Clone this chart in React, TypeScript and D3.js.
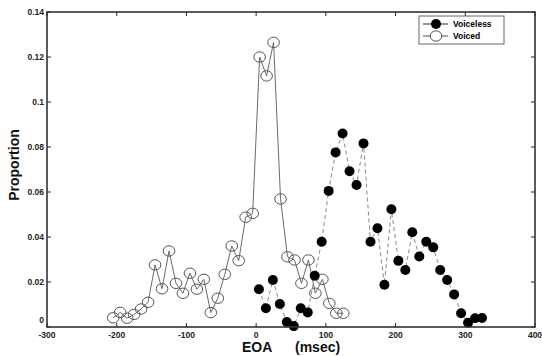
import * as React from 'react';
import * as d3 from 'd3';

// EOA (msec) and proportion for each group
const voicedEoa = [-205, -195, -185, -175, -165, -155, -145, -135, -125, -115, -105, -95, -85, -75, -65, -55, -45, -35, -25, -15, -5, 5, 15, 25, 35, 45, 55, 65, 75, 85, 95, 105, 115, 125];
const voicedProp = [0.0041, 0.0065, 0.0039, 0.0056, 0.008, 0.011, 0.0276, 0.017, 0.0338, 0.0194, 0.015, 0.0239, 0.0168, 0.0212, 0.0064, 0.0128, 0.0234, 0.036, 0.0295, 0.0488, 0.0505, 0.12, 0.1116, 0.1265, 0.0569, 0.0312, 0.0298, 0.0194, 0.0298, 0.015, 0.0212, 0.0105, 0.0061, 0.0061];

const voicelessEoa = [4, 14, 24, 34, 44, 54, 64, 74, 84, 94, 104, 114, 124, 134, 144, 154, 164, 174, 184, 194, 204, 214, 224, 234, 244, 254, 264, 274, 284, 294, 304, 314, 324];
const voicelessProp = [0.0168, 0.0083, 0.0209, 0.0102, 0.0022, 0.0004, 0.0083, 0.0065, 0.0228, 0.0379, 0.0605, 0.0776, 0.086, 0.0692, 0.0631, 0.0816, 0.0379, 0.0439, 0.0188, 0.0523, 0.0294, 0.0253, 0.0421, 0.0313, 0.0379, 0.0354, 0.0253, 0.0209, 0.0145, 0.0061, 0.0019, 0.0039, 0.004];

const xTicks = [-300, -200, -100, 0, 100, 200, 300, 400];
const yTicks = [0, 0.02, 0.04, 0.06, 0.08, 0.1, 0.12, 0.14];
const seriesNames = ['Voiceless', 'Voiced'];

type Pt = {x: number; y: number};

const font = '"Liberation Sans", Arial, Helvetica, sans-serif';

export default function App() {
  const svgWidth = 542;
  const svgHeight = 356;
  const margins = {top: 12, right: 7, bottom: 29, left: 47};
  const width = svgWidth - margins.left - margins.right;
  const height = svgHeight - margins.top - margins.bottom;

  const x = d3.scaleLinear().domain([-300, 400]).range([0, width]);
  const y = d3.scaleLinear().domain([0, 0.14]).range([height, 0]);

  const voiced: Pt[] = voicedEoa.map((e, i) => ({x: e, y: voicedProp[i]}));
  const voiceless: Pt[] = voicelessEoa.map((e, i) => ({x: e, y: voicelessProp[i]}));

  const line = d3
    .line<Pt>()
    .x(d => x(d.x))
    .y(d => y(d.y));

  const tickLen = 4;

  return (
    <svg
      width={svgWidth}
      height={svgHeight}
      style={{position: 'absolute', left: 0, top: 0, background: '#fff'}}
      fontFamily={font}
    >
      <g transform={`translate(${margins.left}, ${margins.top})`}>
        {/* series lines */}
        <path d={line(voiced) || ''} fill='none' stroke='#6a6a6a' strokeWidth={1} />
        <path d={line(voiceless) || ''} fill='none' stroke='#8a8a8a' strokeWidth={1} strokeDasharray='4,3' />

        {voiced.map((d, i) => (
          <ellipse key={'v' + i} cx={x(d.x)} cy={y(d.y)} rx={5.8} ry={5.2} fill='none' stroke='#555' strokeWidth={1} />
        ))}
        {voiceless.map((d, i) => (
          <circle key={'u' + i} cx={x(d.x)} cy={y(d.y)} r={5} fill='#000' />
        ))}

        {/* ticks, inward on all four sides */}
        {xTicks.map(t => (
          <g key={'xt' + t}>
            <line x1={x(t)} x2={x(t)} y1={height} y2={height - tickLen} stroke='#222' />
            <line x1={x(t)} x2={x(t)} y1={0} y2={tickLen} stroke='#222' />
            <text
              x={x(t)}
              y={height + 11}
              textAnchor='middle'
              fontSize={8.5}
              fontWeight='bold'
              fill='#222'
            >
              {t}
            </text>
          </g>
        ))}
        {yTicks.map(t => (
          <g key={'yt' + t}>
            <line x1={0} x2={tickLen} y1={y(t)} y2={y(t)} stroke='#222' />
            <line x1={width} x2={width - tickLen} y1={y(t)} y2={y(t)} stroke='#222' />
            <text
              x={-3}
              y={y(t) + (t === 0 ? -4 : 3)}
              textAnchor='end'
              fontSize={8.5}
              fontWeight='bold'
              fill='#222'
            >
              {d3.format('~g')(t)}
            </text>
          </g>
        ))}

        {/* frame */}
        <rect x={0} y={0} width={width} height={height} fill='none' stroke='#333' strokeWidth={1.6} />

        {/* legend */}
        <g transform='translate(372, 4)'>
          <rect x={0} y={0} width={85} height={28} fill='#fff' stroke='#666' strokeWidth={1} />
          <line x1={4} x2={29} y1={8} y2={8} stroke='#333' />
          <circle cx={17} cy={8} r={5} fill='#000' />
          <text x={34} y={11} fontSize={8.5} fontWeight='bold'>{seriesNames[0]}</text>
          <line x1={4} x2={29} y1={20} y2={20} stroke='#555' />
          <ellipse cx={17} cy={20} rx={5.8} ry={5.2} fill='#fff' stroke='#555' />
          <text x={34} y={23} fontSize={8.5} fontWeight='bold'>{seriesNames[1]}</text>
        </g>
      </g>

      {/* axis titles */}
      <text x={242} y={352} fontSize={14} fontWeight='bold' fill='#111'>
        EOA
      </text>
      <text x={295} y={352} fontSize={14} fontWeight='bold' fill='#111'>
        (msec)
      </text>
      <text
        transform='translate(19, 165) rotate(-90)'
        textAnchor='middle'
        fontSize={14}
        fontWeight='bold'
        fill='#111'
      >
        Proportion
      </text>
    </svg>
  );
}
